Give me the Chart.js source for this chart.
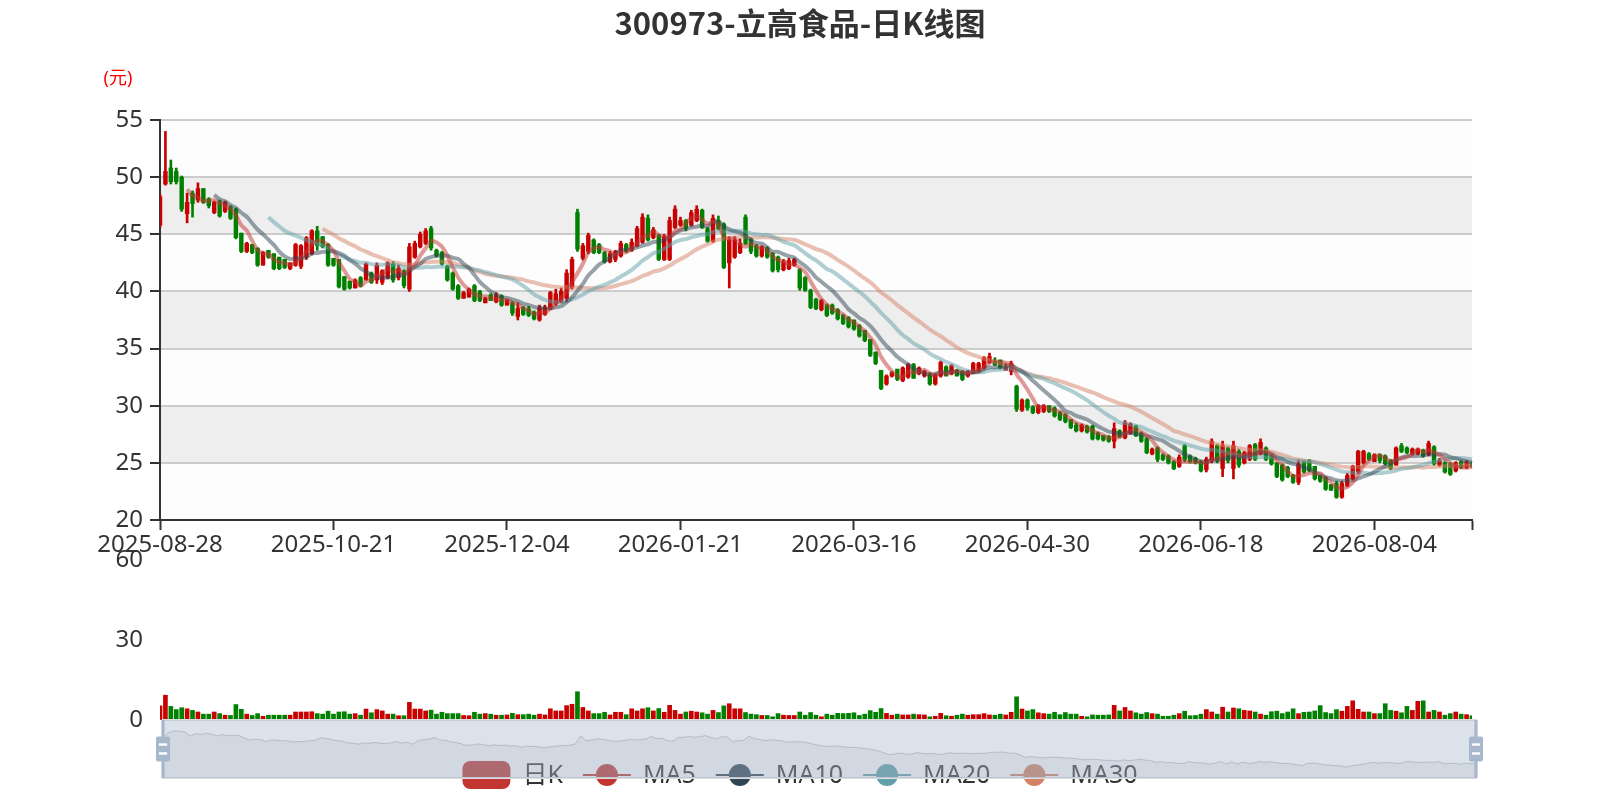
<!DOCTYPE html>
<html>
<head>
<meta charset="utf-8">
<script src="https://cdn.jsdelivr.net/npm/chart.js@4.4.1/dist/chart.umd.min.js"></script>
<style>
html,body{margin:0;padding:0;background:#fff;}
#wrap{position:relative;width:1600px;height:800px;overflow:hidden;background:#fff;}
canvas{position:absolute;left:0;}
#cMain{top:0;width:1600px;height:560px;}
#cVol{top:540px;width:1600px;height:195px;}
#cZoom{top:700px;width:1600px;height:100px;}
</style>
</head>
<body>
<div id="wrap">
<canvas id="cMain" width="1600" height="560"></canvas>
<canvas id="cVol" width="1600" height="195"></canvas>
<canvas id="cZoom" width="1600" height="100"></canvas>
</div>
<script>
// ---------------- DATA ----------------
const chartTitle = '300973-立高食品-日K线图';
const yUnit = '(元)';
const seriesNames = ['日K', 'MA5', 'MA10', 'MA20', 'MA30'];
const maPeriods = [5, 10, 20, 30];

const dates = [
'2025-08-28','2025-08-29',
'2025-09-01','2025-09-02','2025-09-03','2025-09-04','2025-09-05','2025-09-08','2025-09-09','2025-09-10','2025-09-11','2025-09-12',
'2025-09-15','2025-09-16','2025-09-17','2025-09-18','2025-09-19','2025-09-22','2025-09-23','2025-09-24','2025-09-25','2025-09-26',
'2025-09-29','2025-09-30',
'2025-10-09','2025-10-10','2025-10-13','2025-10-14','2025-10-15','2025-10-16','2025-10-17','2025-10-20','2025-10-21','2025-10-22',
'2025-10-23','2025-10-24','2025-10-27','2025-10-28','2025-10-29','2025-10-30','2025-10-31',
'2025-11-03','2025-11-04','2025-11-05','2025-11-06','2025-11-07','2025-11-10','2025-11-11','2025-11-12','2025-11-13','2025-11-14',
'2025-11-17','2025-11-18','2025-11-19','2025-11-20','2025-11-21','2025-11-24','2025-11-25','2025-11-26','2025-11-27','2025-11-28',
'2025-12-01','2025-12-02','2025-12-03','2025-12-04','2025-12-05','2025-12-08','2025-12-09','2025-12-10','2025-12-11','2025-12-12',
'2025-12-15','2025-12-16','2025-12-17','2025-12-18','2025-12-19','2025-12-22','2025-12-23','2025-12-24','2025-12-25','2025-12-26',
'2025-12-29','2025-12-30','2025-12-31',
'2026-01-05','2026-01-06','2026-01-07','2026-01-08','2026-01-09','2026-01-12','2026-01-13','2026-01-14','2026-01-15','2026-01-16',
'2026-01-19','2026-01-20','2026-01-21','2026-01-22','2026-01-23','2026-01-26','2026-01-27','2026-01-28','2026-01-29','2026-01-30',
'2026-02-02','2026-02-03','2026-02-04','2026-02-05','2026-02-06','2026-02-09','2026-02-10','2026-02-11','2026-02-12','2026-02-13',
'2026-02-24','2026-02-25','2026-02-26','2026-02-27',
'2026-03-02','2026-03-03','2026-03-04','2026-03-05','2026-03-06','2026-03-09','2026-03-10','2026-03-11','2026-03-12','2026-03-13',
'2026-03-16','2026-03-17','2026-03-18','2026-03-19','2026-03-20','2026-03-23','2026-03-24','2026-03-25','2026-03-26','2026-03-27',
'2026-03-30','2026-03-31',
'2026-04-01','2026-04-02','2026-04-03','2026-04-07','2026-04-08','2026-04-09','2026-04-10','2026-04-13','2026-04-14','2026-04-15',
'2026-04-16','2026-04-17','2026-04-20','2026-04-21','2026-04-22','2026-04-23','2026-04-24','2026-04-27','2026-04-28','2026-04-29',
'2026-04-30',
'2026-05-06','2026-05-07','2026-05-08','2026-05-11','2026-05-12','2026-05-13','2026-05-14','2026-05-15','2026-05-18','2026-05-19',
'2026-05-20','2026-05-21','2026-05-22','2026-05-25','2026-05-26','2026-05-27','2026-05-28','2026-05-29',
'2026-06-01','2026-06-02','2026-06-03','2026-06-04','2026-06-05','2026-06-08','2026-06-09','2026-06-10','2026-06-11','2026-06-12',
'2026-06-15','2026-06-16','2026-06-17','2026-06-18','2026-06-22','2026-06-23','2026-06-24','2026-06-25','2026-06-26','2026-06-29',
'2026-06-30',
'2026-07-01','2026-07-02','2026-07-03','2026-07-06','2026-07-07','2026-07-08','2026-07-09','2026-07-10','2026-07-13','2026-07-14',
'2026-07-15','2026-07-16','2026-07-17','2026-07-20','2026-07-21','2026-07-22','2026-07-23','2026-07-24','2026-07-27','2026-07-28',
'2026-07-29','2026-07-30','2026-07-31',
'2026-08-03','2026-08-04','2026-08-05','2026-08-06','2026-08-07','2026-08-10','2026-08-11','2026-08-12','2026-08-13','2026-08-14',
'2026-08-17','2026-08-18','2026-08-19','2026-08-20','2026-08-21','2026-08-24','2026-08-25','2026-08-26','2026-08-27','2026-08-28'
];

const opens = [
45.8,49.4,50.8,50.5,50.0,46.8,48.6,48.0,49.0,48.1,
46.9,47.9,47.0,47.4,47.2,45.1,43.5,44.1,43.8,42.3,
43.6,43.3,43.0,42.8,42.0,42.3,42.2,43.0,43.3,45.3,
44.8,44.1,42.9,42.8,41.3,40.9,40.3,41.2,41.0,41.6,
41.0,40.8,41.2,42.4,41.2,41.8,40.2,43.0,43.9,44.2,
45.5,43.6,43.4,42.2,41.6,40.5,39.4,39.5,40.5,40.0,
39.0,39.7,39.1,39.6,38.8,39.0,37.8,38.6,38.5,38.2,
37.5,38.0,38.5,38.9,39.1,39.4,40.4,46.9,42.9,43.5,
44.5,44.1,43.4,42.6,42.8,43.1,44.1,43.6,44.0,44.3,
46.4,44.7,44.9,42.8,42.8,45.6,45.8,46.2,45.8,46.2,
47.1,45.5,44.4,46.2,45.9,42.5,43.0,43.4,46.5,44.6,
44.0,43.1,43.8,43.3,43.0,41.9,42.0,42.3,41.9,41.2,
40.1,39.3,38.4,38.8,38.8,38.4,37.9,37.7,37.5,37.0,
36.6,35.8,34.7,33.1,31.9,32.6,33.2,32.2,32.5,33.6,
32.8,32.6,32.8,31.9,32.6,33.4,32.8,33.1,33.0,32.6,
32.8,33.0,33.3,33.8,33.9,34.0,33.1,33.0,31.7,29.6,
30.5,29.9,29.4,29.5,30.0,29.8,29.4,29.2,28.8,28.3,
27.8,28.2,28.2,27.6,27.4,27.3,26.9,27.8,27.2,27.6,
28.2,27.6,27.1,25.8,26.3,25.7,25.6,25.1,24.7,26.5,
25.6,25.4,25.1,24.4,25.2,26.5,24.5,26.3,24.5,26.0,
25.0,25.3,26.6,25.8,26.3,25.6,25.0,24.8,24.6,23.9,
23.3,25.1,25.2,24.7,23.9,23.7,23.1,23.2,22.0,23.0,
23.6,24.2,25.0,25.8,25.1,25.7,25.6,25.2,24.8,26.5,
26.3,25.8,25.8,26.1,25.7,26.4,24.8,25.0,24.9,24.3,
25.1,24.6,25.0
];

const closes = [
48.3,50.5,49.6,49.6,47.2,47.8,47.7,49.0,47.8,47.5,
47.8,46.6,47.8,46.4,44.7,43.5,44.2,43.4,42.3,43.4,
43.0,42.0,42.0,42.1,42.5,44.1,44.0,44.7,45.3,44.0,
43.9,42.3,42.3,40.4,40.2,40.3,41.0,40.5,42.4,40.8,
42.3,41.8,42.5,41.0,42.0,40.5,43.9,44.2,45.0,45.3,
43.8,43.1,42.4,41.0,40.2,39.4,39.9,40.2,39.2,39.2,
39.4,39.2,39.7,38.8,39.2,38.1,38.5,38.0,37.9,37.6,
38.6,38.6,39.9,39.8,40.0,41.6,42.8,43.7,44.0,44.9,
43.4,43.4,42.6,43.3,43.5,44.2,43.5,44.3,45.5,46.5,
44.5,45.4,42.8,44.8,46.2,47.2,46.2,45.5,46.9,47.2,
45.6,44.4,46.4,45.5,42.1,44.5,44.5,44.2,44.2,43.5,
43.1,43.9,43.0,41.8,41.9,42.6,42.7,42.8,40.3,40.1,
38.6,38.5,39.2,37.9,38.1,37.6,37.2,36.9,36.7,36.1,
35.7,34.4,33.7,31.5,32.6,32.9,32.3,33.3,33.6,32.4,
33.3,33.0,31.9,32.7,33.8,32.6,33.5,32.6,32.3,33.0,
33.7,33.7,34.2,34.3,33.6,33.3,33.4,33.7,29.7,30.5,
29.8,29.4,30.0,30.0,29.5,29.1,28.8,28.6,28.1,27.8,
28.3,27.7,27.1,27.1,27.0,26.9,28.0,27.3,28.5,28.4,
27.4,26.9,25.9,26.2,25.3,25.3,25.0,24.5,25.5,25.3,
25.1,25.0,24.3,25.3,26.9,25.2,26.5,25.2,26.5,24.8,
25.9,26.5,25.3,26.8,25.3,24.9,23.8,23.5,23.8,23.3,
24.9,24.2,24.3,23.6,23.4,22.7,22.6,22.0,23.2,23.9,
24.7,26.0,26.0,25.3,25.7,25.2,24.9,24.5,26.3,26.0,
25.9,26.2,26.2,25.6,26.7,24.9,25.2,24.2,24.0,25.0,
24.6,25.1,24.7
];

const highs = [
48.5,54.0,51.5,50.8,50.1,48.6,48.8,49.5,49.0,48.2,
47.9,48.0,47.9,47.5,47.3,45.1,44.3,44.1,43.8,43.5,
43.6,43.3,43.0,42.8,42.5,44.2,44.1,44.8,45.4,45.7,
44.8,44.2,42.9,42.8,41.3,40.9,41.1,41.3,42.5,41.7,
42.5,41.9,42.6,42.6,42.3,41.9,44.2,44.4,45.2,45.5,
45.7,43.7,43.5,42.3,41.7,40.6,40.0,40.3,40.6,40.1,
39.5,39.8,39.9,39.7,39.3,39.1,39.0,38.7,38.7,38.3,
38.8,38.8,40.0,40.2,40.3,41.9,43.0,47.2,44.2,45.1,
44.6,44.2,43.5,43.5,43.6,44.4,44.2,44.6,45.7,46.8,
46.7,45.6,45.0,45.0,46.5,47.5,46.5,46.3,47.1,47.5,
47.2,45.6,46.7,46.6,46.0,44.8,44.8,44.6,46.7,44.7,
44.1,44.0,43.9,43.4,43.1,42.8,42.9,42.9,42.0,41.3,
40.2,39.4,39.3,38.9,38.9,38.5,38.0,37.8,37.5,37.1,
36.6,35.8,34.7,33.1,32.7,33.0,33.2,33.4,33.7,33.7,
33.4,33.1,32.9,32.8,33.9,33.5,33.6,33.2,33.1,33.1,
33.8,33.8,34.3,34.6,34.2,34.0,33.7,33.9,31.8,30.6,
30.6,30.0,30.1,30.1,30.0,29.9,29.5,29.3,28.8,28.5,
28.4,28.3,28.3,27.7,27.4,27.4,28.5,27.9,28.7,28.5,
28.3,27.7,27.2,26.3,26.4,25.8,25.7,25.2,25.7,26.6,
25.7,25.5,25.2,25.5,27.1,26.6,26.9,26.4,26.9,26.2,
26.0,26.6,26.7,27.1,26.4,25.7,25.0,24.9,24.7,24.0,
25.25,25.2,25.3,24.7,23.9,23.8,23.1,23.4,23.4,24.1,
24.8,26.1,26.1,25.9,25.8,25.8,25.7,25.3,26.4,26.7,
26.4,26.3,26.3,26.2,26.9,26.5,25.4,25.1,25.0,25.1,
25.2,25.2,25.1
];

const lows = [
45.6,49.3,49.4,49.4,47.0,46.0,46.5,47.8,47.7,47.3,
46.8,46.5,46.9,46.3,44.6,43.4,43.4,43.3,42.2,42.3,
42.9,41.9,41.9,42.0,41.9,42.2,42.0,42.8,43.2,43.6,
43.8,42.2,42.2,40.3,40.1,40.2,40.3,40.4,41.0,40.7,
40.7,40.6,41.1,40.8,41.0,40.3,40.0,42.9,43.8,44.1,
43.6,43.0,42.3,40.9,40.1,39.3,39.4,39.5,39.1,39.1,
39.0,39.2,39.0,38.7,38.8,37.9,37.5,37.9,37.8,37.5,
37.4,37.9,38.4,38.8,39.0,39.1,40.2,43.5,42.75,43.3,
43.3,43.3,42.5,42.5,42.6,43.0,43.4,43.5,43.9,44.2,
44.4,44.6,42.7,42.7,42.7,45.5,45.7,45.3,45.7,46.1,
45.5,44.3,44.3,45.4,42.0,40.3,42.9,43.3,44.1,43.3,
43.0,43.0,42.9,41.7,41.7,41.8,41.9,42.2,40.1,40.0,
38.5,38.4,38.3,37.8,38.0,37.5,37.1,36.8,36.6,36.0,
35.6,34.3,33.6,31.4,31.8,32.5,32.2,32.1,32.4,32.4,
32.7,32.5,31.8,31.8,32.5,32.6,32.7,32.6,32.2,32.5,
32.8,32.9,33.2,33.7,33.5,33.2,33.1,32.7,29.5,29.5,
29.6,29.3,29.3,29.4,29.4,29.0,28.7,28.5,28.0,27.7,
27.7,27.6,27.0,27.0,26.9,26.8,26.3,27.2,27.1,27.5,
27.3,26.8,25.8,25.7,25.1,25.2,24.9,24.4,24.6,25.1,
25.0,24.9,24.2,24.2,25.0,25.0,23.8,25.0,23.6,24.6,
24.9,25.2,25.2,25.7,25.2,24.8,23.7,23.4,23.7,23.2,
23.1,24.1,24.2,23.5,23.3,22.6,22.6,21.9,21.9,22.9,
23.5,24.1,24.9,25.2,25.1,25.0,24.8,24.4,24.8,25.9,
25.8,25.7,25.7,25.5,25.6,24.8,24.7,24.1,23.9,24.2,
24.5,24.5,24.6
];

const volumes = [
5.3,9.3,5.1,3.9,4.6,4.2,3.6,3.0,2.2,2.2,
3.0,2.4,1.8,1.7,5.8,4.0,2.2,1.7,2.4,1.4,
1.8,1.8,1.8,1.8,1.8,3.0,3.0,3.0,3.1,2.4,
2.2,3.3,2.2,3.0,3.1,2.2,2.4,1.8,4.1,2.7,
3.9,3.4,2.2,2.2,1.6,1.6,6.6,4.1,4.1,3.4,
3.7,2.2,2.9,2.4,2.4,2.4,1.7,1.6,2.9,2.2,
2.4,2.2,1.8,1.8,1.9,2.5,2.0,2.0,2.2,1.8,
2.2,1.9,4.2,3.4,3.4,5.4,5.9,10.6,4.7,3.4,
2.4,2.4,2.9,1.9,2.9,2.9,2.0,4.2,3.4,4.2,
4.6,3.4,4.3,2.9,5.5,3.6,2.2,3.0,3.3,3.0,
2.7,2.2,3.6,2.8,5.3,6.1,4.2,4.2,2.8,2.2,
2.0,1.7,1.7,1.2,2.4,1.8,1.7,1.7,3.0,1.8,
2.8,1.8,1.2,2.2,1.8,2.5,2.4,2.5,2.7,1.7,
2.2,3.5,2.9,4.3,2.5,1.8,2.2,1.9,1.9,2.2,
2.0,1.9,1.2,1.4,2.5,1.6,1.4,1.8,2.2,1.8,
2.0,2.0,2.4,1.9,1.8,2.2,1.9,2.9,8.7,4.1,
3.4,3.9,2.7,2.4,2.2,2.9,2.0,2.8,2.2,2.2,
1.4,1.2,1.9,1.8,1.8,1.9,5.5,3.4,4.7,3.4,
2.7,2.2,2.8,2.4,2.2,1.4,1.4,1.8,2.4,3.3,
1.6,1.7,2.2,3.9,3.0,2.2,4.8,3.0,4.5,4.2,
3.6,3.4,3.0,2.2,1.8,3.1,3.3,2.4,3.0,4.2,
2.4,2.9,3.0,3.4,5.4,2.8,2.4,3.9,3.3,5.1,
7.2,4.0,3.0,3.0,2.4,2.4,6.1,3.6,3.3,2.7,
5.1,3.6,7.0,7.2,3.0,3.6,3.0,1.8,2.4,3.0,
2.2,2.0,1.6
];

const priceTicks = {min: 20, max: 55, step: 5};
const volTicks = {min: 0, max: 60, step: 30};
const labelEvery = 32;

// ---------------- STYLE ----------------
const UP = '#c80000', DOWN = '#008000';
const maColors = ['#c23531', '#2f4554', '#61a0a8', '#d48265'];
const FONT = '"Noto Sans","Noto Sans CJK SC",sans-serif';
const TITLE_FONT = '"Noto Sans CJK SC","Noto Sans",sans-serif';

function alpha(hex, a) {
  const n = parseInt(hex.slice(1), 16);
  return 'rgba(' + (n >> 16 & 255) + ',' + (n >> 8 & 255) + ',' + (n & 255) + ',' + a + ')';
}
function movingAverage(vals, n) {
  return vals.map((v, i) => {
    if (i < n) return null;
    let s = 0;
    for (let j = 0; j < n; j++) s += vals[i - j];
    return +(s / n).toFixed(3);
  });
}

const candleColors = closes.map((c, i) => c >= opens[i] ? UP : DOWN);
const bodyData = opens.map((o, i) => [o, closes[i]]);
const wickData = lows.map((l, i) => [l, highs[i]]);

Chart.defaults.font.family = FONT;
Chart.defaults.color = '#333';

// ---------------- MAIN CHART ----------------
const bandPlugin = {
  id: 'bands',
  beforeDraw(chart) {
    const {ctx, chartArea: a, scales: {y}} = chart;
    ctx.save();
    const ticks = y.ticks.map(t => t.value);
    for (let k = 0; k < ticks.length - 1; k++) {
      const y0 = y.getPixelForValue(ticks[k + 1]);
      const y1 = y.getPixelForValue(ticks[k]);
      ctx.fillStyle = k % 2 === 0 ? 'rgba(250,250,250,0.3)' : 'rgba(200,200,200,0.3)';
      ctx.fillRect(a.left, y0, a.right - a.left, y1 - y0);
    }
    ctx.restore();
  },
  afterDraw(chart) {
    const {ctx} = chart;
    ctx.save();
    ctx.fillStyle = '#333';
    ctx.font = 'bold 31px ' + TITLE_FONT;
    ctx.textAlign = 'center';
    ctx.textBaseline = 'middle';
    ctx.fillText(chartTitle, 800, 23);
    ctx.fillStyle = '#ff0000';
    ctx.font = '18px ' + FONT;
    ctx.fillText(yUnit, 118, 79);
    ctx.restore();
  }
};

const maDatasets = maPeriods.map((p, k) => ({
  type: 'line',
  label: seriesNames[k + 1],
  data: movingAverage(closes, p),
  borderColor: alpha(maColors[k], 0.5),
  borderWidth: 4,
  pointRadius: 0,
  tension: 0.35,
  spanGaps: false,
  order: 0
}));

new Chart(document.getElementById('cMain'), {
  type: 'bar',
  data: {
    labels: dates,
    datasets: [
      {type: 'bar', label: 'wick', data: wickData, backgroundColor: candleColors,
       barThickness: 2, grouped: false, order: 3},
      {type: 'bar', label: seriesNames[0], data: bodyData, backgroundColor: candleColors,
       barThickness: 3.8, grouped: false, minBarLength: 1, order: 2},
      ...maDatasets
    ]
  },
  options: {
    responsive: false, animation: false, devicePixelRatio: 1,
    layout: {padding: {top: 120, right: 128, left: 0, bottom: 0}},
    plugins: {legend: {display: false}, tooltip: {enabled: false}, title: {display: false}},
    scales: {
      x: {
        type: 'category', offset: false,
        afterFit(s) { s.height = 40; },
        grid: {offset: false, drawOnChartArea: false, drawTicks: true, tickLength: 10, tickColor: '#333', tickWidth: 2},
        border: {display: true, color: '#333', width: 2},
        ticks: {
          autoSkip: false, maxRotation: 0, minRotation: 0, padding: 1,
          color: '#333', font: {size: 24},
          callback(v, i) {
            if (i % labelEvery === 0) return dates[i];
            if (i === dates.length - 1) return '';
            return null;
          }
        }
      },
      y: {
        min: priceTicks.min, max: priceTicks.max,
        afterFit(s) { s.width = 160; },
        grid: {color: '#cccccc', lineWidth: 2, drawTicks: true, tickLength: 10, tickColor: '#333', tickWidth: 2},
        border: {display: true, color: '#333', width: 2},
        ticks: {stepSize: priceTicks.step, padding: 7, color: '#333', font: {size: 24}}
      }
    }
  },
  plugins: [bandPlugin]
});

// ---------------- VOLUME CHART ----------------
new Chart(document.getElementById('cVol'), {
  type: 'bar',
  data: {
    labels: dates,
    datasets: [{label: 'vol', data: volumes, backgroundColor: candleColors, barThickness: 4}]
  },
  options: {
    responsive: false, animation: false, devicePixelRatio: 1,
    layout: {padding: {top: 20, right: 128, left: 0, bottom: 15}},
    plugins: {legend: {display: false}, tooltip: {enabled: false}},
    scales: {
      x: {type: 'category', offset: false, display: false},
      y: {
        min: volTicks.min, max: volTicks.max,
        afterFit(s) { s.width = 160; },
        grid: {display: true, drawOnChartArea: false, drawTicks: true, tickLength: 17, tickColor: 'rgba(0,0,0,0)'},
        border: {display: false},
        ticks: {stepSize: volTicks.step, padding: 0, color: '#333', font: {size: 24}}
      }
    }
  }
});

// ---------------- SLIDER + LEGEND ----------------
const openMin = Math.min(...opens), openMax = Math.max(...opens);
const openPad = (openMax - openMin) * 0.3;

const sliderPlugin = {
  id: 'slider',
  beforeDatasetsDraw(chart) {
    const {ctx, chartArea: a} = chart;
    ctx.save();
    // legend (drawn under the slider, as in the reference)
    ctx.font = '25px ' + FONT;
    const iconW = 48, iconH = 28, gapText = 12, gapItem = 20;
    const widths = seriesNames.map(n => ctx.measureText(n).width);
    let total = 0;
    widths.forEach((w, i) => { total += iconW + gapText + w + (i < widths.length - 1 ? gapItem : 0); });
    let x = 800 - total / 2;
    const cy = 75;
    const legendColors = [maColors[0], ...maColors];
    seriesNames.forEach((n, i) => {
      const col = legendColors[i];
      if (i === 0) {
        ctx.fillStyle = col;
        ctx.beginPath();
        ctx.roundRect(x, cy - iconH / 2, iconW, iconH, 8);
        ctx.fill();
      } else {
        ctx.strokeStyle = col;
        ctx.lineWidth = 2;
        ctx.beginPath();
        ctx.moveTo(x, cy); ctx.lineTo(x + iconW, cy);
        ctx.stroke();
        ctx.fillStyle = col;
        ctx.beginPath();
        ctx.arc(x + iconW / 2, cy, 11, 0, Math.PI * 2);
        ctx.fill();
      }
      ctx.fillStyle = '#333';
      ctx.textAlign = 'left';
      ctx.textBaseline = 'middle';
      ctx.fillText(n, x + iconW + gapText, cy + 1);
      x += iconW + gapText + widths[i] + gapItem;
    });
    // slider frame
    ctx.strokeStyle = '#dddddd';
    ctx.lineWidth = 2;
    ctx.strokeRect(a.left, a.top, a.right - a.left, a.bottom - a.top);
    ctx.restore();
  },
  afterDatasetsDraw(chart) {
    const {ctx, chartArea: a} = chart;
    ctx.save();
    ctx.fillStyle = 'rgba(167,183,203,0.4)';
    ctx.fillRect(a.left, a.top, a.right - a.left, a.bottom - a.top);
    const h = a.bottom - a.top, s = h / 34.3;
    [a.left, a.right].forEach(cx => {
      ctx.fillStyle = '#a7b7cc';
      ctx.fillRect(cx - 0.95 * s, a.top, 1.9 * s, h);
      ctx.beginPath();
      ctx.roundRect(cx - 4.15 * s, a.top + 9.7 * s, 8.3 * s, 14.9 * s, 2);
      ctx.fill();
      ctx.fillStyle = '#ffffff';
      ctx.fillRect(cx - 2.45 * s, a.top + 13.8 * s, 4.9 * s, 1.4 * s);
      ctx.fillRect(cx - 2.45 * s, a.top + 19.1 * s, 4.9 * s, 1.4 * s);
    });
    ctx.restore();
  }
};

new Chart(document.getElementById('cZoom'), {
  type: 'line',
  data: {
    labels: dates,
    datasets: [{
      label: 'shadow', data: opens,
      borderColor: 'rgba(47,69,84,0.3)', borderWidth: 1,
      backgroundColor: 'rgba(47,69,84,0.09)',
      fill: 'start', pointRadius: 0, tension: 0
    }]
  },
  options: {
    responsive: false, animation: false, devicePixelRatio: 1,
    layout: {padding: {top: 20, right: 124, left: 163, bottom: 22}},
    plugins: {legend: {display: false}, tooltip: {enabled: false}},
    scales: {
      x: {type: 'category', offset: false, display: false},
      y: {display: false, min: openMin - openPad, max: openMax + openPad}
    }
  },
  plugins: [sliderPlugin]
});
</script>
</body>
</html>
